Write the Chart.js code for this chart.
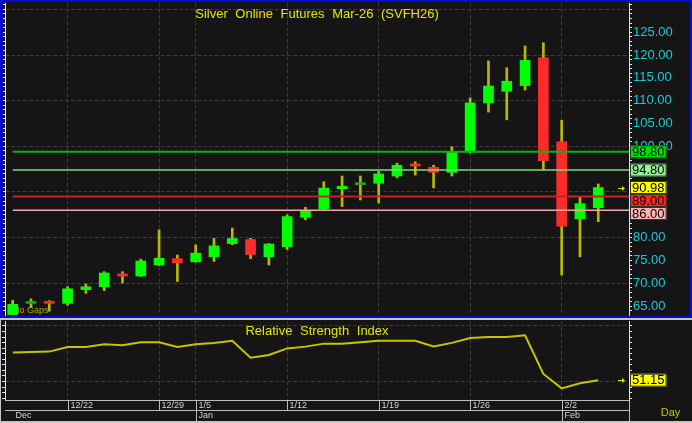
<!DOCTYPE html>
<html><head><meta charset="utf-8">
<script src="https://cdn.jsdelivr.net/npm/chart.js@4.4.1/dist/chart.umd.min.js"></script>
<style>
html,body{margin:0;padding:0;}
body{width:692px;height:423px;background:#c4c4c4;position:relative;overflow:hidden;}
#pp{position:absolute;left:0;top:0;width:692px;height:318px;background:#151515;}
#rp{position:absolute;left:1px;top:320px;width:691px;height:101px;background:#151515;}
#frame{position:absolute;left:0;top:0;width:692px;height:318px;box-sizing:border-box;border:2px solid #0a0ad0;border-left-width:3px;pointer-events:none;}
canvas{display:block;}
</style></head><body>
<div id="pp"><canvas id="price" width="692" height="318"></canvas></div>
<div id="frame"></div>
<div id="rp"><canvas id="rsi" width="691" height="101"></canvas></div>
<script>
// ---- data ----
const opens  = [62.4, 65.6, 65.95, 65.6, 68.6, 69.25, 72.05, 71.6, 74.0, 75.4, 74.7, 75.8, 78.7, 79.6, 75.8, 78.0, 84.45, 86.3, 90.7, 91.6, 91.9, 93.5, 96.1, 95.4, 94.3, 98.75, 109.5, 112.05, 113.3, 119.4, 101.0, 84.1, 86.55];
const highs  = [66.3, 66.6, 66.2, 69.25, 69.85, 72.55, 72.55, 75.3, 81.7, 76.2, 78.4, 79.85, 82.1, 79.85, 78.7, 85.0, 86.65, 92.25, 93.5, 93.5, 94.5, 96.3, 96.6, 95.85, 99.9, 110.6, 118.7, 117.2, 122.0, 122.7, 105.7, 88.95, 91.75];
const lows   = [62.0, 64.7, 63.9, 65.2, 67.8, 68.4, 70.06, 71.5, 73.85, 70.4, 74.6, 74.8, 78.45, 75.4, 74.0, 77.4, 83.9, 85.9, 86.8, 88.25, 87.6, 93.1, 93.7, 90.9, 93.5, 98.5, 107.5, 105.8, 112.3, 95.0, 71.8, 75.8, 83.5];
const closes = [65.4, 65.6, 65.6, 68.8, 69.25, 72.26, 71.6, 74.9, 75.5, 74.45, 76.6, 78.2, 79.8, 76.3, 78.6, 84.6, 85.8, 90.85, 91.25, 91.6, 93.95, 95.85, 95.7, 94.3, 98.75, 109.5, 113.2, 114.25, 118.85, 96.85, 82.5, 87.45, 90.98];
const rsiValues = [76.0, 76.6, 76.9, 81.1, 81.1, 83.5, 82.6, 85.4, 85.4, 81.1, 83.5, 84.7, 86.6, 71.4, 73.9, 79.8, 81.4, 84.1, 84.1, 85.4, 86.6, 86.6, 86.6, 81.6, 84.8, 89.1, 90.1, 90.1, 91.6, 56.8, 43.8, 48.4, 51.15];
const levelValues = [98.80, 94.80, 89.00, 86.00];
const lastPrice = 90.98;
const lastRsi = 51.15;
const weekTickIdx = [3, 8, 10, 15, 20, 25, 30];
const weekTickLabels = ['12/22', '12/29', '1/5', '1/12', '1/19', '1/26', '2/2'];
const monthStartIdx = [0, 10, 30];
const monthLabels = ['Dec', 'Jan', 'Feb'];
const chartTitle = 'Silver Online Futures Mar-26 (SVFH26)';
const rsiTitle = 'Relative Strength Index';

// ---- styles ----
const X_MIN = -0.42, X_MAX = 33.68;
const P_MIN = 63.06, P_MAX = 131.39;
const R_MIN = 33.3, R_MAX = 104.5;
const levelLineColors = ['#10b010', '#78e078', '#c82020', '#f0a8a8'];
const levelLineWidths = [2, 1.5, 2, 1.5];
const levelBoxColors = ['#00e000', '#98f098', '#ff2424', '#ffb4b4'];
const FONT = '"Liberation Sans", Arial, sans-serif';
const GRID = '#3a3a3a';
const AXIS = '#e6e6e6';

const bodyColors = closes.map((c, i) => c > opens[i] ? '#00ff00' : (c < opens[i] ? '#ff2a2a' : '#1fa81f'));

function intTicks(step) {
  return s => {
    const t = [];
    for (let v = Math.ceil(s.min / step) * step; v <= s.max; v += step) t.push({value: v});
    s.ticks = t;
  };
}
function weekTicks(s) { s.ticks = weekTickIdx.map(v => ({value: v})); }
function fitY(w) {
  return s => { s.width = w; s.paddingTop = 0; s.paddingBottom = 0; };
}

function xScale() {
  return {
    type: 'linear', min: X_MIN, max: X_MAX, offset: false,
    grid: {offset: false, color: GRID, drawTicks: false},
    border: {display: false, dash: [4, 2]},
    ticks: {display: false},
    afterBuildTicks: weekTicks
  };
}

function drawBox(ctx, x, yTop, text, bg) {
  ctx.font = '13px ' + FONT;
  const w = ctx.measureText(text).width + 4, h = 13;
  ctx.fillStyle = bg;
  ctx.fillRect(x, yTop, w, h);
  ctx.strokeStyle = '#303030';
  ctx.lineWidth = 1;
  ctx.strokeRect(x + 0.5, yTop + 0.5, w - 1, h - 1);
  ctx.fillStyle = '#000';
  ctx.textAlign = 'left';
  ctx.textBaseline = 'middle';
  ctx.fillText(text, x + 2, yTop + h / 2 + 0.5);
  return h;
}
function drawArrow(ctx, x, y) {
  ctx.strokeStyle = '#e0e000'; ctx.fillStyle = '#e0e000'; ctx.lineWidth = 1;
  ctx.beginPath(); ctx.moveTo(x - 4, y + 0.5); ctx.lineTo(x + 1, y + 0.5); ctx.stroke();
  ctx.beginPath(); ctx.moveTo(x + 3, y + 0.5); ctx.lineTo(x, y - 2); ctx.lineTo(x, y + 3); ctx.closePath(); ctx.fill();
}
function drawTitle(ctx, text, x, y) {
  ctx.save();
  ctx.font = '13px ' + FONT;
  try { ctx.wordSpacing = '4px'; } catch (e) {}
  ctx.fillStyle = '#e4e400';
  ctx.textAlign = 'center';
  ctx.textBaseline = 'middle';
  ctx.fillText(text, x, y);
  ctx.restore();
}

const priceOverlay = {
  id: 'priceOverlay',
  beforeDatasetsDraw(chart) {
    const {ctx, chartArea: a} = chart;
    ctx.save();
    ctx.font = '9px ' + FONT;
    ctx.fillStyle = '#a8a800';
    ctx.textBaseline = 'bottom';
    ctx.fillText('No Gaps', a.left + 8, a.bottom);
    ctx.restore();
  },
  afterDraw(chart) {
    const {ctx, chartArea: a, scales: {y}} = chart;
    drawTitle(ctx, chartTitle, (a.left + a.right) / 2, 14);
    ctx.save();
    const items = levelValues.map((v, k) => ({v, bg: levelBoxColors[k]}));
    items.push({v: lastPrice, bg: '#ffff00'});
    items.sort((p, q) => q.v - p.v);
    let prevBottom = -1e9;
    items.forEach(it => {
      let top = y.getPixelForValue(it.v) - 6.5;
      if (top < prevBottom) top = prevBottom;
      const h = drawBox(ctx, a.right + 1, top, it.v.toFixed(2), it.bg);
      prevBottom = top + h;
    });
    drawArrow(ctx, a.right - 7, Math.round(y.getPixelForValue(lastPrice)));
    ctx.restore();
  }
};

new Chart(document.getElementById('price'), {
  type: 'bar',
  data: {
    datasets: [
      ...levelValues.map((v, k) => ({
        type: 'line', data: [{x: 0, y: v}, {x: X_MAX, y: v}],
        borderColor: levelLineColors[k], borderWidth: levelLineWidths[k],
        pointRadius: 0, order: 0, xAxisID: 'x', yAxisID: 'y'
      })),
      {type: 'bar', data: opens.map((o, i) => ({x: i, y: [o, closes[i]]})),
       backgroundColor: bodyColors, barThickness: 10, minBarLength: 2, grouped: false,
       order: 1, xAxisID: 'x', yAxisID: 'y'},
      {type: 'bar', data: lows.map((l, i) => ({x: i, y: [l, highs[i]]})),
       backgroundColor: '#b8b800', barThickness: 2, grouped: false,
       order: 2, xAxisID: 'x', yAxisID: 'y'}
    ]
  },
  options: {
    responsive: false, animation: false, events: [],
    layout: {padding: {left: 2, top: 3, right: 0, bottom: 3}},
    plugins: {legend: {display: false}, tooltip: {enabled: false}, title: {display: false}},
    scales: {
      x: Object.assign(xScale(), {afterFit: s => { s.height = 0; s.paddingLeft = 0; s.paddingRight = 0; }}),
      y: {
        position: 'right', min: P_MIN, max: P_MAX,
        afterBuildTicks: intTicks(1),
        ticks: {color: '#1ec8dc', font: {family: FONT, size: 13}, padding: 1, autoSkip: false,
                callback: v => (Math.abs(v % 5) < 1e-9 && v <= P_MAX - 5 ? v.toFixed(2) : '')},
        grid: {color: c => (c.tick && Math.abs(c.tick.value % 10) < 1e-9) ? GRID : 'rgba(0,0,0,0)',
               tickColor: AXIS, tickLength: 3},
        border: {display: true, color: AXIS, width: 1, dash: [4, 2]},
        afterFit: fitY(63)
      },
      yl: {
        position: 'left', min: P_MIN, max: P_MAX,
        afterBuildTicks: intTicks(1),
        ticks: {display: false},
        grid: {drawOnChartArea: false, tickColor: AXIS, tickLength: 3},
        border: {display: true, color: AXIS, width: 1},
        afterFit: fitY(3)
      }
    }
  },
  plugins: [priceOverlay]
});

const rsiOverlay = {
  id: 'rsiOverlay',
  afterDraw(chart) {
    const {ctx, chartArea: a, scales: {x, y}} = chart;
    drawTitle(ctx, rsiTitle, (a.left + a.right) / 2, 11);
    ctx.save();
    drawBox(ctx, a.right + 1, y.getPixelForValue(lastRsi) - 6.5, lastRsi.toFixed(2), '#ffff00');
    drawArrow(ctx, a.right - 7, Math.round(y.getPixelForValue(lastRsi)));
    // date axis
    const y0 = a.bottom + 0.5, y1 = a.bottom + 10.5, y2 = chart.height;
    ctx.strokeStyle = '#bcbcbc';
    ctx.lineWidth = 1;
    const line = (x1, yy1, x2, yy2) => { ctx.beginPath(); ctx.moveTo(x1, yy1); ctx.lineTo(x2, yy2); ctx.stroke(); };
    line(a.left, y0, a.right, y0);
    line(a.left, y1, a.right, y1);
    line(a.right + 0.5, y0, a.right + 0.5, y2);
    ctx.font = '9px ' + FONT;
    ctx.fillStyle = '#d4d4d4';
    ctx.textAlign = 'left';
    ctx.textBaseline = 'middle';
    weekTickIdx.forEach((idx, k) => {
      const px = Math.round(x.getPixelForValue(idx)) + 0.5;
      const isMonth = monthStartIdx.indexOf(idx) > 0;
      line(px, y0, px, isMonth ? y2 : y1);
      ctx.fillText(weekTickLabels[k], px + 2, y0 + 5.5);
    });
    monthLabels.forEach((m, k) => {
      const px = Math.round(x.getPixelForValue(monthStartIdx[k])) + 0.5;
      ctx.fillText(m, px + 2, y1 + 5.5);
    });
    ctx.font = '11px ' + FONT;
    ctx.fillStyle = '#c8c800';
    ctx.textAlign = 'center';
    ctx.fillText('Day', (a.right + chart.width) / 2 + 10, y1 + 2);
    ctx.restore();
  }
};

new Chart(document.getElementById('rsi'), {
  type: 'line',
  data: {
    datasets: [{
      data: rsiValues.map((v, i) => ({x: i, y: v})),
      borderColor: '#c4c400', borderWidth: 2, pointRadius: 0, tension: 0,
      xAxisID: 'x', yAxisID: 'y'
    }]
  },
  options: {
    responsive: false, animation: false, events: [],
    layout: {padding: {left: 1, top: 1, right: 0, bottom: 0}},
    plugins: {legend: {display: false}, tooltip: {enabled: false}},
    scales: {
      x: Object.assign(xScale(), {afterFit: s => { s.height = 21; s.paddingLeft = 0; s.paddingRight = 0; }}),
      y: {
        position: 'right', min: R_MIN, max: R_MAX,
        afterBuildTicks: intTicks(5),
        ticks: {display: false},
        grid: {color: c => (c.tick && Math.abs(c.tick.value % 50) < 1e-9) ? GRID : 'rgba(0,0,0,0)',
               tickColor: AXIS, tickLength: 3},
        border: {display: true, color: AXIS, width: 1, dash: [4, 2]},
        afterFit: fitY(63)
      },
      yl: {
        position: 'left', min: R_MIN, max: R_MAX,
        afterBuildTicks: intTicks(5),
        ticks: {display: false},
        grid: {drawOnChartArea: false, tickColor: AXIS, tickLength: 3},
        border: {display: true, color: AXIS, width: 1},
        afterFit: fitY(3)
      }
    }
  },
  plugins: [rsiOverlay]
});
</script>
</body></html>
